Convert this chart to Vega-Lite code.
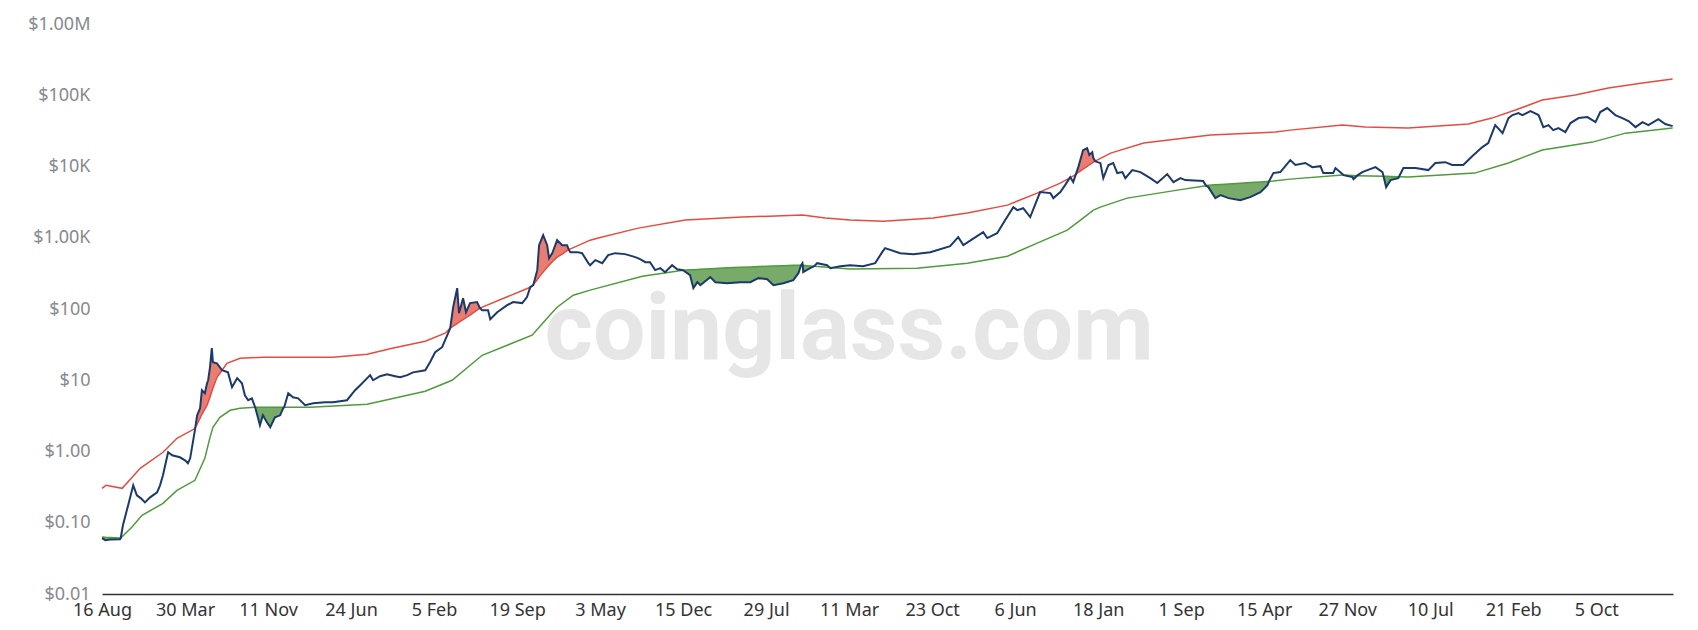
{
  "$schema": "https://vega.github.io/schema/vega-lite/v6.json",
  "width": 1571,
  "height": 570,
  "autosize": {"type": "none"},
  "padding": {"left": 102, "top": 24, "right": 25, "bottom": 36},
  "config": {"view": {"stroke": null}, "font": "Noto Sans"},
  "datasets": {
    "mark": [{"t": "coinglass.com", "d": "2016-03-11", "p": 20}],
    "price": [
      {"d":"2010-08-16","p":0.061},{"d":"2010-08-25","p":0.057},{"d":"2010-09-07","p":0.058},{"d":"2010-10-04","p":0.0585},{"d":"2010-10-06","p":0.061},{"d":"2010-10-12","p":0.092},{"d":"2010-10-26","p":0.175},{"d":"2010-11-09","p":0.335},{"d":"2010-11-19","p":0.243},{"d":"2010-11-30","p":0.22},{"d":"2010-12-11","p":0.193},{"d":"2010-12-25","p":0.227},
      {"d":"2011-01-13","p":0.267},{"d":"2011-01-21","p":0.335},{"d":"2011-01-29","p":0.463},{"d":"2011-02-12","p":0.975},{"d":"2011-02-23","p":0.885},{"d":"2011-03-16","p":0.829},{"d":"2011-03-30","p":0.752},{"d":"2011-04-07","p":0.683},{"d":"2011-04-13","p":0.802},{"d":"2011-04-26","p":1.99},{"d":"2011-05-02","p":3.22},{"d":"2011-05-10","p":4.04},{"d":"2011-05-15","p":7.24},{"d":"2011-05-23","p":6.57},{"d":"2011-05-29","p":9.08},{"d":"2011-06-01","p":10.0},{"d":"2011-06-06","p":15.2},{"d":"2011-06-11","p":28.2},{"d":"2011-06-14","p":17.9},{"d":"2011-06-25","p":17.3},{"d":"2011-07-09","p":13.8},{"d":"2011-07-25","p":12.9},{"d":"2011-08-05","p":7.98},{"d":"2011-08-19","p":10.7},{"d":"2011-09-01","p":9.08},{"d":"2011-09-09","p":6.16},{"d":"2011-09-18","p":5.24},{"d":"2011-09-28","p":5.58},{"d":"2011-10-07","p":4.18},{"d":"2011-10-15","p":2.93},{"d":"2011-10-20","p":2.33},{"d":"2011-10-28","p":3.22},{"d":"2011-11-08","p":2.57},{"d":"2011-11-17","p":2.19},{"d":"2011-11-30","p":3.02},{"d":"2011-12-14","p":3.22},{"d":"2011-12-22","p":4.04},{"d":"2011-12-25","p":4.18},
      {"d":"2012-01-05","p":6.57},{"d":"2012-01-18","p":5.77},{"d":"2012-02-01","p":5.58},{"d":"2012-02-20","p":4.46},{"d":"2012-03-13","p":4.75},{"d":"2012-04-14","p":4.91},{"d":"2012-05-06","p":4.91},{"d":"2012-06-13","p":5.24},{"d":"2012-07-05","p":7.24},{"d":"2012-07-19","p":8.51},{"d":"2012-08-07","p":10.7},{"d":"2012-08-15","p":11.8},{"d":"2012-08-23","p":10.0},{"d":"2012-09-11","p":11.4},{"d":"2012-09-30","p":12.1},{"d":"2012-10-22","p":11.4},{"d":"2012-11-05","p":11.0},{"d":"2012-11-24","p":11.8},{"d":"2012-12-10","p":12.9},
      {"d":"2013-01-12","p":13.8},{"d":"2013-01-25","p":17.9},{"d":"2013-02-08","p":24.7},{"d":"2013-02-27","p":29.1},{"d":"2013-03-13","p":42.9},{"d":"2013-03-21","p":53.8},{"d":"2013-03-29","p":106},{"d":"2013-04-09","p":196},{"d":"2013-04-14","p":87.3},{"d":"2013-04-25","p":142},{"d":"2013-05-03","p":90.2},{"d":"2013-05-14","p":121},{"d":"2013-06-02","p":125},{"d":"2013-06-10","p":103},{"d":"2013-06-16","p":96.2},{"d":"2013-07-02","p":96.2},{"d":"2013-07-08","p":71.9},{"d":"2013-07-27","p":90.2},{"d":"2013-08-23","p":113},{"d":"2013-09-08","p":125},{"d":"2013-10-03","p":121},{"d":"2013-10-16","p":147},{"d":"2013-10-25","p":202},{"d":"2013-11-02","p":216},{"d":"2013-11-13","p":351},{"d":"2013-11-18","p":787},{"d":"2013-11-29","p":1090},{"d":"2013-12-10","p":787},{"d":"2013-12-15","p":517},{"d":"2013-12-24","p":608},
      {"d":"2014-01-06","p":925},{"d":"2014-01-20","p":787},{"d":"2014-02-02","p":787},{"d":"2014-02-07","p":680},{"d":"2014-02-11","p":628},{"d":"2014-03-02","p":628},{"d":"2014-03-15","p":608},{"d":"2014-04-01","p":440},{"d":"2014-04-06","p":412},{"d":"2014-04-20","p":485},{"d":"2014-05-09","p":440},{"d":"2014-05-25","p":570},{"d":"2014-06-13","p":608},{"d":"2014-07-10","p":589},{"d":"2014-08-07","p":534},{"d":"2014-08-20","p":501},{"d":"2014-09-03","p":454},{"d":"2014-09-16","p":454},{"d":"2014-09-30","p":351},{"d":"2014-10-14","p":374},{"d":"2014-10-27","p":329},{"d":"2014-11-15","p":412},{"d":"2014-11-29","p":362},{"d":"2014-12-15","p":351},
      {"d":"2015-01-03","p":298},{"d":"2015-01-12","p":196},{"d":"2015-01-23","p":238},{"d":"2015-01-31","p":216},{"d":"2015-02-27","p":280},{"d":"2015-03-13","p":238},{"d":"2015-04-14","p":230},{"d":"2015-05-20","p":238},{"d":"2015-06-16","p":238},{"d":"2015-07-08","p":271},{"d":"2015-08-01","p":262},{"d":"2015-08-18","p":216},{"d":"2015-09-14","p":230},{"d":"2015-10-11","p":254},{"d":"2015-10-25","p":318},{"d":"2015-11-01","p":410},{"d":"2015-11-05","p":440},{"d":"2015-11-06","p":410},{"d":"2015-11-07","p":329},{"d":"2015-11-26","p":374},{"d":"2015-12-07","p":398},{"d":"2015-12-15","p":440},
      {"d":"2016-01-11","p":412},{"d":"2016-01-20","p":374},{"d":"2016-02-16","p":399},{"d":"2016-03-14","p":412},{"d":"2016-04-18","p":399},{"d":"2016-05-21","p":440},{"d":"2016-06-09","p":628},{"d":"2016-06-17","p":714},{"d":"2016-07-28","p":608},{"d":"2016-09-02","p":589},{"d":"2016-10-18","p":628},{"d":"2016-12-11","p":762},
      {"d":"2017-01-02","p":1020},{"d":"2017-01-16","p":787},{"d":"2017-03-11","p":1200},{"d":"2017-03-22","p":990},{"d":"2017-04-18","p":1160},{"d":"2017-05-10","p":1770},{"d":"2017-06-01","p":2690},{"d":"2017-06-12","p":2440},{"d":"2017-06-28","p":2600},{"d":"2017-07-17","p":1950},{"d":"2017-08-13","p":4370},{"d":"2017-09-10","p":4230},{"d":"2017-09-18","p":3600},{"d":"2017-10-07","p":4370},{"d":"2017-10-20","p":5480},{"d":"2017-11-03","p":7100},{"d":"2017-11-11","p":6040},{"d":"2017-11-18","p":7700},{"d":"2017-11-25","p":9800},{"d":"2017-12-08","p":17000},{"d":"2017-12-19","p":18100},{"d":"2017-12-25","p":14500},
      {"d":"2018-01-02","p":15900},{"d":"2018-01-05","p":13100},{"d":"2018-01-10","p":11900},{"d":"2018-01-16","p":11500},{"d":"2018-01-24","p":11200},{"d":"2018-02-01","p":6870},{"d":"2018-02-15","p":10500},{"d":"2018-02-28","p":11200},{"d":"2018-03-11","p":8080},{"d":"2018-03-25","p":8350},{"d":"2018-04-02","p":6870},{"d":"2018-04-21","p":8900},{"d":"2018-05-13","p":8350},{"d":"2018-06-09","p":6870},{"d":"2018-06-28","p":5850},{"d":"2018-07-25","p":7820},{"d":"2018-08-11","p":6040},{"d":"2018-08-30","p":6870},{"d":"2018-09-12","p":6440},{"d":"2018-10-31","p":6240},{"d":"2018-11-08","p":5376},{"d":"2018-11-14","p":5140},{"d":"2018-12-03","p":3600},{"d":"2018-12-17","p":3970},
      {"d":"2019-01-08","p":3600},{"d":"2019-02-09","p":3370},{"d":"2019-03-08","p":3720},{"d":"2019-04-05","p":4370},{"d":"2019-04-24","p":5480},{"d":"2019-04-28","p":6180},{"d":"2019-05-10","p":8080},{"d":"2019-05-29","p":8350},{"d":"2019-06-25","p":12300},{"d":"2019-07-09","p":10500},{"d":"2019-08-05","p":11200},{"d":"2019-08-24","p":9800},{"d":"2019-09-15","p":10100},{"d":"2019-09-23","p":8080},{"d":"2019-10-20","p":8080},{"d":"2019-10-26","p":9500},{"d":"2019-11-17","p":7570},{"d":"2019-12-11","p":7100},{"d":"2019-12-14","p":6650},{"d":"2019-12-24","p":7440},
      {"d":"2020-01-07","p":8350},{"d":"2020-02-12","p":9800},{"d":"2020-03-02","p":8350},{"d":"2020-03-05","p":7300},{"d":"2020-03-12","p":5140},{"d":"2020-03-24","p":6440},{"d":"2020-04-14","p":6870},{"d":"2020-04-16","p":7180},{"d":"2020-04-28","p":9500},{"d":"2020-05-31","p":9500},{"d":"2020-07-05","p":8900},{"d":"2020-07-24","p":11200},{"d":"2020-08-20","p":11500},{"d":"2020-09-08","p":10500},{"d":"2020-10-08","p":10500},{"d":"2020-11-02","p":14000},{"d":"2020-11-29","p":18700},{"d":"2020-12-15","p":21300},
      {"d":"2021-01-03","p":38100},{"d":"2021-01-23","p":29400},{"d":"2021-02-08","p":47800},{"d":"2021-02-19","p":52700},{"d":"2021-03-07","p":56200},{"d":"2021-03-18","p":52700},{"d":"2021-04-09","p":60000},{"d":"2021-05-01","p":52700},{"d":"2021-05-14","p":35700},{"d":"2021-05-28","p":38100},{"d":"2021-06-10","p":32400},{"d":"2021-06-24","p":34600},{"d":"2021-07-13","p":30400},{"d":"2021-07-27","p":40700},{"d":"2021-08-18","p":47800},{"d":"2021-09-11","p":49400},{"d":"2021-10-03","p":42000},{"d":"2021-10-16","p":58100},{"d":"2021-11-04","p":66100},{"d":"2021-11-26","p":52700},{"d":"2021-12-15","p":47800},
      {"d":"2022-01-01","p":43400},{"d":"2022-01-20","p":35700},{"d":"2022-02-08","p":42000},{"d":"2022-02-24","p":38100},{"d":"2022-03-23","p":46300},{"d":"2022-04-11","p":39400},{"d":"2022-05-01","p":36900}
    ],
    "upper": [
      {"d":"2010-08-16","p":0.304},{"d":"2010-08-27","p":0.335},{"d":"2010-10-10","p":0.304},{"d":"2010-11-28","p":0.581},{"d":"2011-01-29","p":0.975},{"d":"2011-03-08","p":1.53},{"d":"2011-04-26","p":2.1},{"d":"2011-05-02","p":2.41},{"d":"2011-05-10","p":2.93},{"d":"2011-05-15","p":3.33},{"d":"2011-05-23","p":3.92},{"d":"2011-05-29","p":4.46},{"d":"2011-06-01","p":4.91},{"d":"2011-06-06","p":5.77},{"d":"2011-06-11","p":7.01},{"d":"2011-06-14","p":7.72},{"d":"2011-06-25","p":11.0},{"d":"2011-07-09","p":13.8},{"d":"2011-07-22","p":17.3},{"d":"2011-08-27","p":20.4},{"d":"2011-10-28","p":21.0},{"d":"2012-03-04","p":21.0},{"d":"2012-05-06","p":21.0},{"d":"2012-08-07","p":23.2},{"d":"2012-10-14","p":28.2},{"d":"2013-01-12","p":35.3},{"d":"2013-03-07","p":45.7},{"d":"2013-03-21","p":53.8},{"d":"2013-03-29","p":57.3},{"d":"2013-04-09","p":62.2},{"d":"2013-04-14","p":65.3},{"d":"2013-04-25","p":70.7},{"d":"2013-05-03","p":75.5},{"d":"2013-05-14","p":81.8},{"d":"2013-06-02","p":96.2},{"d":"2013-06-10","p":103},{"d":"2013-10-25","p":202},{"d":"2013-11-02","p":219},{"d":"2013-11-13","p":258},{"d":"2013-11-18","p":280},{"d":"2013-11-29","p":329},{"d":"2013-12-10","p":386},{"d":"2013-12-15","p":412},{"d":"2013-12-24","p":462},{"d":"2014-01-06","p":534},{"d":"2014-01-20","p":589},{"d":"2014-02-02","p":659},{"d":"2014-02-07","p":680},{"d":"2014-04-06","p":925},{"d":"2014-04-28","p":990},{"d":"2014-08-15","p":1365},{"d":"2014-12-21","p":1770},{"d":"2015-05-25","p":1950},{"d":"2015-11-05","p":2080},{"d":"2016-01-06","p":1890},{"d":"2016-03-14","p":1770},{"d":"2016-06-12","p":1710},{"d":"2016-10-26","p":1890},{"d":"2017-01-27","p":2220},{"d":"2017-05-16","p":2870},{"d":"2017-08-05","p":4230},{"d":"2017-10-07","p":5850},{"d":"2017-11-18","p":7700},{"d":"2017-11-25","p":8270},{"d":"2017-12-08","p":9200},{"d":"2017-12-19","p":10030},{"d":"2017-12-25","p":10500},{"d":"2018-01-02","p":11200},{"d":"2018-01-05","p":11500},{"d":"2018-01-10","p":11900},{"d":"2018-02-21","p":15400},{"d":"2018-05-22","p":21300},{"d":"2018-10-05","p":25900},{"d":"2018-11-20","p":27600},{"d":"2019-05-16","p":30400},{"d":"2019-06-25","p":32400},{"d":"2019-11-14","p":38100},{"d":"2020-01-15","p":35700},{"d":"2020-05-11","p":34600},{"d":"2020-10-22","p":39400},{"d":"2020-12-25","p":47800},{"d":"2021-02-27","p":62000},{"d":"2021-05-11","p":85600},{"d":"2021-08-09","p":100700},{"d":"2021-11-07","p":126000},{"d":"2022-02-08","p":148400},{"d":"2022-05-01","p":168900}
    ],
    "lower": [
      {"d":"2010-08-16","p":0.063},{"d":"2010-08-25","p":0.0625},{"d":"2010-09-07","p":0.062},{"d":"2010-10-04","p":0.061},{"d":"2010-10-06","p":0.061},{"d":"2010-11-05","p":0.0862},{"d":"2010-12-03","p":0.127},{"d":"2011-01-29","p":0.187},{"d":"2011-03-08","p":0.285},{"d":"2011-04-26","p":0.394},{"d":"2011-05-23","p":0.802},{"d":"2011-06-06","p":1.58},{"d":"2011-06-14","p":2.19},{"d":"2011-07-03","p":3.02},{"d":"2011-07-31","p":3.79},{"d":"2011-08-27","p":4.04},{"d":"2011-10-07","p":4.18},{"d":"2011-12-25","p":4.18},{"d":"2012-03-04","p":4.18},{"d":"2012-08-07","p":4.6},{"d":"2013-01-12","p":7.01},{"d":"2013-03-26","p":10.0},{"d":"2013-06-16","p":22.4},{"d":"2013-10-30","p":42.9},{"d":"2013-12-17","p":81.8},{"d":"2014-01-06","p":106},{"d":"2014-02-19","p":156},{"d":"2014-04-06","p":184},{"d":"2014-08-26","p":289},{"d":"2014-12-15","p":351},{"d":"2015-01-03","p":355},{"d":"2015-01-12","p":356},{"d":"2015-01-23","p":359},{"d":"2015-01-31","p":361},{"d":"2015-02-27","p":367},{"d":"2015-03-13","p":371},{"d":"2015-04-14","p":378},{"d":"2015-05-20","p":386},{"d":"2015-06-16","p":390},{"d":"2015-07-08","p":394},{"d":"2015-08-01","p":398},{"d":"2015-08-18","p":400},{"d":"2015-09-14","p":404},{"d":"2015-10-11","p":410},{"d":"2015-10-25","p":411},{"d":"2015-11-01","p":411},{"d":"2015-11-06","p":410},{"d":"2015-11-26","p":402},{"d":"2015-12-07","p":398},{"d":"2016-02-16","p":374},{"d":"2016-03-14","p":365},{"d":"2016-09-12","p":374},{"d":"2017-01-27","p":440},{"d":"2017-05-16","p":551},{"d":"2017-08-05","p":840},{"d":"2017-10-26","p":1280},{"d":"2017-12-08","p":1890},{"d":"2018-01-05","p":2440},{"d":"2018-01-24","p":2690},{"d":"2018-04-07","p":3600},{"d":"2018-08-22","p":4660},{"d":"2018-11-08","p":5376},{"d":"2018-11-14","p":5460},{"d":"2018-12-03","p":5530},{"d":"2018-12-17","p":5590},{"d":"2019-01-08","p":5680},{"d":"2019-02-09","p":5830},{"d":"2019-03-08","p":5940},{"d":"2019-04-05","p":6080},{"d":"2019-04-24","p":6160},{"d":"2019-04-28","p":6180},{"d":"2019-05-10","p":6240},{"d":"2019-06-25","p":6650},{"d":"2019-11-14","p":7570},{"d":"2019-11-17","p":7570},{"d":"2019-12-11","p":7470},{"d":"2019-12-14","p":7460},{"d":"2019-12-24","p":7440},{"d":"2020-03-05","p":7300},{"d":"2020-03-12","p":7290},{"d":"2020-03-24","p":7240},{"d":"2020-04-14","p":7190},{"d":"2020-04-16","p":7180},{"d":"2020-05-11","p":7100},{"d":"2020-11-08","p":8080},{"d":"2021-02-08","p":11200},{"d":"2021-05-11","p":17000},{"d":"2021-09-25","p":22000},{"d":"2021-12-24","p":29400},{"d":"2022-05-01","p":34600}
    ],
    "fills": [
      {"s":"g0","k":"g","d":"2010-08-16","p":0.061,"b":0.063},{"s":"g0","k":"g","d":"2010-08-25","p":0.057,"b":0.0625},{"s":"g0","k":"g","d":"2010-09-07","p":0.058,"b":0.062},{"s":"g0","k":"g","d":"2010-10-04","p":0.0585,"b":0.061},{"s":"g0","k":"g","d":"2010-10-06","p":0.061,"b":0.061},
      {"s":"r1","k":"r","d":"2011-04-26","p":1.99,"b":2.1},{"s":"r1","k":"r","d":"2011-05-02","p":3.22,"b":2.41},{"s":"r1","k":"r","d":"2011-05-10","p":4.04,"b":2.93},{"s":"r1","k":"r","d":"2011-05-15","p":7.24,"b":3.33},{"s":"r1","k":"r","d":"2011-05-23","p":6.57,"b":3.92},{"s":"r1","k":"r","d":"2011-05-29","p":9.08,"b":4.46},{"s":"r1","k":"r","d":"2011-06-01","p":10.0,"b":4.91},{"s":"r1","k":"r","d":"2011-06-06","p":15.2,"b":5.77},{"s":"r1","k":"r","d":"2011-06-11","p":28.2,"b":7.01},{"s":"r1","k":"r","d":"2011-06-14","p":17.9,"b":7.72},{"s":"r1","k":"r","d":"2011-06-25","p":17.3,"b":11.0},{"s":"r1","k":"r","d":"2011-07-09","p":13.8,"b":13.8},
      {"s":"g1","k":"g","d":"2011-10-07","p":4.18,"b":4.18},{"s":"g1","k":"g","d":"2011-10-15","p":2.93,"b":4.18},{"s":"g1","k":"g","d":"2011-10-20","p":2.33,"b":4.18},{"s":"g1","k":"g","d":"2011-10-28","p":3.22,"b":4.18},{"s":"g1","k":"g","d":"2011-11-08","p":2.57,"b":4.18},{"s":"g1","k":"g","d":"2011-11-17","p":2.19,"b":4.18},{"s":"g1","k":"g","d":"2011-11-30","p":3.02,"b":4.18},{"s":"g1","k":"g","d":"2011-12-14","p":3.22,"b":4.18},{"s":"g1","k":"g","d":"2011-12-22","p":4.04,"b":4.18},{"s":"g1","k":"g","d":"2011-12-25","p":4.18,"b":4.18},
      {"s":"r2","k":"r","d":"2013-03-21","p":53.8,"b":53.8},{"s":"r2","k":"r","d":"2013-03-29","p":106,"b":57.3},{"s":"r2","k":"r","d":"2013-04-09","p":196,"b":62.2},{"s":"r2","k":"r","d":"2013-04-14","p":87.3,"b":65.3},{"s":"r2","k":"r","d":"2013-04-25","p":142,"b":70.7},{"s":"r2","k":"r","d":"2013-05-03","p":90.2,"b":75.5},{"s":"r2","k":"r","d":"2013-05-14","p":121,"b":81.8},{"s":"r2","k":"r","d":"2013-06-02","p":125,"b":96.2},{"s":"r2","k":"r","d":"2013-06-10","p":103,"b":103},
      {"s":"r3","k":"r","d":"2013-10-25","p":202,"b":202},{"s":"r3","k":"r","d":"2013-11-02","p":216,"b":219},{"s":"r3","k":"r","d":"2013-11-13","p":351,"b":258},{"s":"r3","k":"r","d":"2013-11-18","p":787,"b":280},{"s":"r3","k":"r","d":"2013-11-29","p":1090,"b":329},{"s":"r3","k":"r","d":"2013-12-10","p":787,"b":386},{"s":"r3","k":"r","d":"2013-12-15","p":517,"b":412},{"s":"r3","k":"r","d":"2013-12-24","p":608,"b":462},{"s":"r3","k":"r","d":"2014-01-06","p":925,"b":534},{"s":"r3","k":"r","d":"2014-01-20","p":787,"b":589},{"s":"r3","k":"r","d":"2014-02-02","p":787,"b":659},{"s":"r3","k":"r","d":"2014-02-07","p":680,"b":680},
      {"s":"g2","k":"g","d":"2014-12-15","p":351,"b":351},{"s":"g2","k":"g","d":"2015-01-03","p":298,"b":355},{"s":"g2","k":"g","d":"2015-01-12","p":196,"b":356},{"s":"g2","k":"g","d":"2015-01-23","p":238,"b":359},{"s":"g2","k":"g","d":"2015-01-31","p":216,"b":361},{"s":"g2","k":"g","d":"2015-02-27","p":280,"b":367},{"s":"g2","k":"g","d":"2015-03-13","p":238,"b":371},{"s":"g2","k":"g","d":"2015-04-14","p":230,"b":378},{"s":"g2","k":"g","d":"2015-05-20","p":238,"b":386},{"s":"g2","k":"g","d":"2015-06-16","p":238,"b":390},{"s":"g2","k":"g","d":"2015-07-08","p":271,"b":394},{"s":"g2","k":"g","d":"2015-08-01","p":262,"b":398},{"s":"g2","k":"g","d":"2015-08-18","p":216,"b":400},{"s":"g2","k":"g","d":"2015-09-14","p":230,"b":404},{"s":"g2","k":"g","d":"2015-10-11","p":254,"b":410},{"s":"g2","k":"g","d":"2015-10-25","p":318,"b":411},{"s":"g2","k":"g","d":"2015-11-01","p":410,"b":411},
      {"s":"g3","k":"g","d":"2015-11-06","p":410,"b":410},{"s":"g3","k":"g","d":"2015-11-07","p":329,"b":410},{"s":"g3","k":"g","d":"2015-11-26","p":374,"b":402},{"s":"g3","k":"g","d":"2015-12-07","p":398,"b":398},
      {"s":"r4","k":"r","d":"2017-11-18","p":7700,"b":7700},{"s":"r4","k":"r","d":"2017-11-25","p":9800,"b":8270},{"s":"r4","k":"r","d":"2017-12-08","p":17000,"b":9200},{"s":"r4","k":"r","d":"2017-12-19","p":18100,"b":10030},{"s":"r4","k":"r","d":"2017-12-25","p":14500,"b":10500},{"s":"r4","k":"r","d":"2018-01-02","p":15900,"b":11200},{"s":"r4","k":"r","d":"2018-01-05","p":13100,"b":11500},{"s":"r4","k":"r","d":"2018-01-10","p":11900,"b":11900},
      {"s":"g4","k":"g","d":"2018-11-08","p":5376,"b":5376},{"s":"g4","k":"g","d":"2018-11-14","p":5140,"b":5460},{"s":"g4","k":"g","d":"2018-12-03","p":3600,"b":5530},{"s":"g4","k":"g","d":"2018-12-17","p":3970,"b":5590},{"s":"g4","k":"g","d":"2019-01-08","p":3600,"b":5680},{"s":"g4","k":"g","d":"2019-02-09","p":3370,"b":5830},{"s":"g4","k":"g","d":"2019-03-08","p":3720,"b":5940},{"s":"g4","k":"g","d":"2019-04-05","p":4370,"b":6080},{"s":"g4","k":"g","d":"2019-04-24","p":5480,"b":6160},{"s":"g4","k":"g","d":"2019-04-28","p":6180,"b":6180},
      {"s":"g5","k":"g","d":"2019-11-17","p":7570,"b":7570},{"s":"g5","k":"g","d":"2019-12-11","p":7100,"b":7470},{"s":"g5","k":"g","d":"2019-12-14","p":6650,"b":7460},{"s":"g5","k":"g","d":"2019-12-24","p":7440,"b":7440},
      {"s":"g6","k":"g","d":"2020-03-05","p":7300,"b":7300},{"s":"g6","k":"g","d":"2020-03-12","p":5140,"b":7290},{"s":"g6","k":"g","d":"2020-03-24","p":6440,"b":7240},{"s":"g6","k":"g","d":"2020-04-14","p":6870,"b":7190},{"s":"g6","k":"g","d":"2020-04-16","p":7180,"b":7180}
    ]
  },
  "encoding": {
    "x": {
      "field": "d", "type": "temporal", "title": null,
      "scale": {"type": "utc", "domain": [{"year": 2010, "month": 8, "date": 16, "utc": true}, {"year": 2022, "month": 5, "date": 2, "utc": true}]},
      "axis": {
        "title": null,
        "labelExpr": "utcFormat(datum.value, '%-d %b')",
        "values": [
          {"year": 2010, "month": 8, "date": 16, "utc": true}, {"year": 2011, "month": 3, "date": 30, "utc": true}, {"year": 2011, "month": 11, "date": 11, "utc": true},
          {"year": 2012, "month": 6, "date": 24, "utc": true}, {"year": 2013, "month": 2, "date": 5, "utc": true}, {"year": 2013, "month": 9, "date": 19, "utc": true},
          {"year": 2014, "month": 5, "date": 3, "utc": true}, {"year": 2014, "month": 12, "date": 15, "utc": true}, {"year": 2015, "month": 7, "date": 29, "utc": true},
          {"year": 2016, "month": 3, "date": 11, "utc": true}, {"year": 2016, "month": 10, "date": 23, "utc": true}, {"year": 2017, "month": 6, "date": 6, "utc": true},
          {"year": 2018, "month": 1, "date": 18, "utc": true}, {"year": 2018, "month": 9, "date": 1, "utc": true}, {"year": 2019, "month": 4, "date": 15, "utc": true},
          {"year": 2019, "month": 11, "date": 27, "utc": true}, {"year": 2020, "month": 7, "date": 10, "utc": true}, {"year": 2021, "month": 2, "date": 21, "utc": true},
          {"year": 2021, "month": 10, "date": 5, "utc": true}
        ],
        "domain": true, "domainColor": "#333333", "domainWidth": 1.5, "ticks": false, "grid": false,
        "labelFont": "Noto Sans", "labelFontSize": 18, "labelColor": "#333333", "labelPadding": 7,
        "labelFlush": false, "labelOverlap": false, "labelBound": false
      }
    },
    "y": {
      "field": "p", "type": "quantitative", "title": null,
      "scale": {"type": "log", "domain": [0.01, 1000000]},
      "axis": {
        "title": null,
        "values": [0.01, 0.1, 1, 10, 100, 1000, 10000, 100000, 1000000],
        "labelExpr": "datum.value < 0.05 ? '$0.01' : datum.value < 0.5 ? '$0.10' : datum.value < 5 ? '$1.00' : datum.value < 50 ? '$10' : datum.value < 500 ? '$100' : datum.value < 5000 ? '$1.00K' : datum.value < 50000 ? '$10K' : datum.value < 500000 ? '$100K' : '$1.00M'",
        "domain": false, "ticks": false, "grid": false,
        "labelFont": "Noto Sans", "labelFontSize": 18, "labelColor": "#86898f", "labelPadding": 12,
        "labelOverlap": false, "labelBound": false
      }
    }
  },
  "layer": [
    {
      "data": {"name": "mark"},
      "mark": {"type": "text", "align": "center", "baseline": "alphabetic", "fontSize": 93, "fontWeight": "bold", "font": "Roboto", "color": "#e6e6e6"},
      "encoding": {"text": {"field": "t"}}
    },
    {
      "data": {"name": "fills"},
      "mark": {"type": "area", "interpolate": "linear"},
      "encoding": {
        "y2": {"field": "b"},
        "detail": {"field": "s"},
        "color": {"field": "k", "type": "nominal", "scale": {"domain": ["r", "g"], "range": ["#ea7d72", "#78aa69"]}, "legend": null}
      }
    },
    {
      "data": {"name": "upper"},
      "mark": {"type": "line", "color": "#e64b40", "strokeWidth": 1.5},
      "encoding": {}
    },
    {
      "data": {"name": "lower"},
      "mark": {"type": "line", "color": "#4f9a3c", "strokeWidth": 1.5},
      "encoding": {}
    },
    {
      "data": {"name": "price"},
      "mark": {"type": "line", "color": "#1b3a6b", "strokeWidth": 2},
      "encoding": {}
    }
  ]
}
